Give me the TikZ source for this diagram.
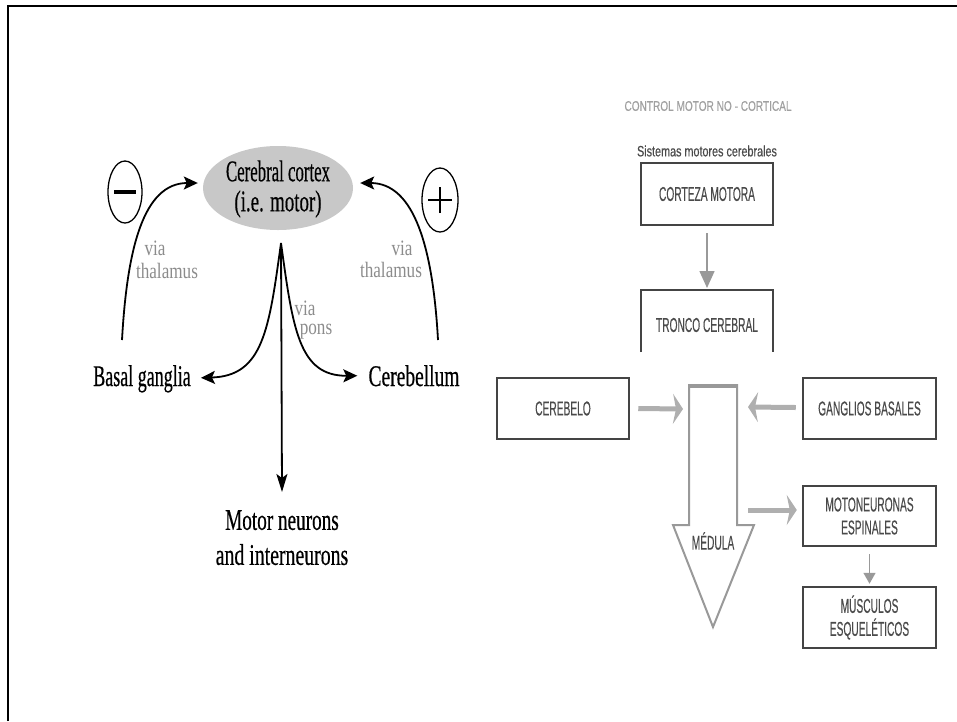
\documentclass[tikz,border=0pt]{standalone}
\usepackage{fontspec}
\usepackage{graphicx}
\setmainfont{Liberation Serif}
\newfontfamily\serifb[FakeBold=0.6]{Liberation Serif}
\newfontfamily\sansf[FakeBold=0.5]{Liberation Sans}
\usetikzlibrary{arrows.meta,shapes.geometric}
\definecolor{boxgray}{HTML}{444444}
\definecolor{txtgray}{HTML}{4A4A4A}
\definecolor{lightg}{HTML}{AFAFAF}
\definecolor{midg}{HTML}{999999}
\definecolor{titleg}{HTML}{A0A0A0}
\definecolor{viag}{HTML}{8C8C8C}
\definecolor{cortexfill}{HTML}{C8C8C8}
\newcommand{\sx}[2]{\scalebox{#1}[1]{#2}}
\begin{document}
\begin{tikzpicture}[x=1pt,y=-1pt,
  serifbig/.style={font=\serifb\fontsize{30}{30}\selectfont, inner sep=0pt, align=center},
  viatext/.style={font=\fontsize{22}{23}\selectfont, text=viag, inner sep=0pt},
  blackarrow/.style={line width=1.8pt, -{Stealth[length=14pt,width=13pt,inset=3pt]}},
  boxstyle/.style={draw=boxgray, line width=2.5pt, minimum width=132pt, minimum height=61pt, inner sep=0pt, align=center, font=\sansf\fontsize{20}{23}\selectfont, text=txtgray},
  grayarrow/.style={draw=lightg, line width=5pt, -{Stealth[length=10pt,width=30pt,inset=3pt]}},
  thingray/.style={draw=midg, line width=1.5pt, -{Triangle[length=17pt,width=15pt]}},
  smallgray/.style={draw=midg, line width=1.5pt, -{Triangle[length=11pt,width=12pt]}},
  sign/.style={ellipse, draw, line width=1.3pt, minimum width=34pt, minimum height=62pt, inner sep=0pt}
]
\useasboundingbox (0,0) rectangle (957,721);
\draw[line width=2.5pt] (8,721) -- (8,6) -- (957,6);

% ---------- left diagram ----------
\node[ellipse, fill=cortexfill, minimum width=150pt, minimum height=84pt, inner sep=0pt] (cortex) at (278,188) {};
\node[serifbig] (cortextxt) at (278,189) {\sx{0.56}{Cerebral cortex}\\\sx{0.63}{(i.e. motor)}};
\node[serifbig, anchor=base] (bg) at (142,386) {\sx{0.6}{Basal ganglia}};
\node[serifbig, anchor=base] (cb) at (414,386) {\sx{0.65}{Cerebellum}};
\node[serifbig, anchor=north, font=\serifb\fontsize{30}{35}\selectfont] (mn) at (282,510) {\sx{0.64}{Motor neurons}\\\sx{0.66}{and interneurons}};

\node[sign] (minus) at (125,192) {};
\draw[line width=3.5pt] ([xshift=-11pt]minus.center) -- ([xshift=11pt]minus.center);
\node[sign, minimum width=36pt, minimum height=64pt] (plus) at (440,200) {};
\draw[line width=1.5pt] ([xshift=-12pt]plus.center) -- ([xshift=12pt]plus.center);
\draw[line width=1.5pt] ([yshift=-13pt]plus.center) -- ([yshift=13pt]plus.center);

\coordinate (bgup) at (122,340);
\coordinate (cbup) at (438,340);
\coordinate (split) at (281,243);
\draw[blackarrow] (bgup) .. controls (127,250) and (143,183) .. ([xshift=-5pt,yshift=5pt]cortex.west);
\draw[blackarrow] (cbup) .. controls (433,250) and (415,183) .. ([xshift=7pt,yshift=5pt]cortex.east);
\draw[blackarrow] (split) .. controls (269,330) and (263,376) .. ([xshift=10pt,yshift=1pt]bg.east);
\draw[blackarrow] (split) .. controls (293,330) and (299,376) .. ([xshift=-11pt]cb.west);
\draw[line width=1.8pt, -{Stealth[length=18pt,width=11pt,inset=4pt]}] (split) -- ([yshift=18pt]mn.north);

\node[viatext] (via1) at (155,248) {\sx{0.78}{via}};
\node[viatext] (thal1) at (167,271) {\sx{0.78}{thalamus}};
\node[viatext] (via2) at (402,248) {\sx{0.78}{via}};
\node[viatext] (thal2) at (391,270) {\sx{0.78}{thalamus}};
\node[viatext] (via3) at (305,308) {\sx{0.78}{via}};
\node[viatext] (pons) at (316,332) {\sx{0.78}{pons}};

% ---------- right diagram ----------
\node[font=\sansf\fontsize{14}{15}\selectfont, text=titleg, inner sep=0pt] (title) at (708,106) {\sx{0.72}{CONTROL MOTOR NO - CORTICAL}};
\node[font=\sansf\fontsize{15}{16}\selectfont, text=txtgray, inner sep=0pt] (sist) at (707,151) {\sx{0.72}{Sistemas motores cerebrales}};

\node[boxstyle, minimum height=62pt] (cort) at (707,194) {\sx{0.51}{CORTEZA MOTORA}};
\node[font=\sansf\fontsize{20}{23}\selectfont, text=txtgray, inner sep=0pt] (tron) at (707,325) {\sx{0.51}{TRONCO CEREBRAL}};
\coordinate (tronTop) at (707,290);
\draw[draw=boxgray, line width=2.5pt] (641,352) -- (641,290) -- (773,290) -- (773,352);

\node[boxstyle] (cer) at (563,408.5) {\sx{0.51}{CEREBELO}};
\node[boxstyle, minimum width=133pt] (gang) at (869.5,408.5) {\sx{0.51}{GANGLIOS BASALES}};
\node[boxstyle, minimum width=133pt, minimum height=60pt] (moto) at (869.5,516) {\sx{0.51}{MOTONEURONAS}\\\sx{0.51}{ESPINALES}};
\node[boxstyle, minimum width=133pt] (musc) at (869.5,617.5) {\sx{0.51}{MÚSCULOS}\\\sx{0.51}{ESQUELÉTICOS}};

% medula arrow
\draw[draw=midg, line width=2pt, line join=miter] (689,385) -- (737,385) -- (737,525) -- (754,525) -- (713,627) -- (673,525) -- (689,525) -- cycle;
\draw[draw=midg, line width=4pt] (688,386) -- (738,386);
\node[font=\sansf\fontsize{20}{23}\selectfont, text=txtgray, inner sep=0pt] (med) at (713,541) {\sx{0.51}{MÉDULA}};

\coordinate (medLin) at (683,409);
\coordinate (medRin) at (748,407);
\coordinate (medOut) at (748,510);
\draw[grayarrow] ([xshift=8pt]cer.east) -- (medLin);
\draw[grayarrow] ([xshift=-6pt,yshift=1pt]gang.west) -- (medRin);
\draw[grayarrow] (medOut) -- ([xshift=-5pt,yshift=6pt]moto.west);
\draw[thingray] ([yshift=-7pt]cort.south) -- ([yshift=2pt]tronTop);
\draw[smallgray] ([yshift=-7pt]moto.south) -- ([yshift=2pt]musc.north);
\end{tikzpicture}
\end{document}
